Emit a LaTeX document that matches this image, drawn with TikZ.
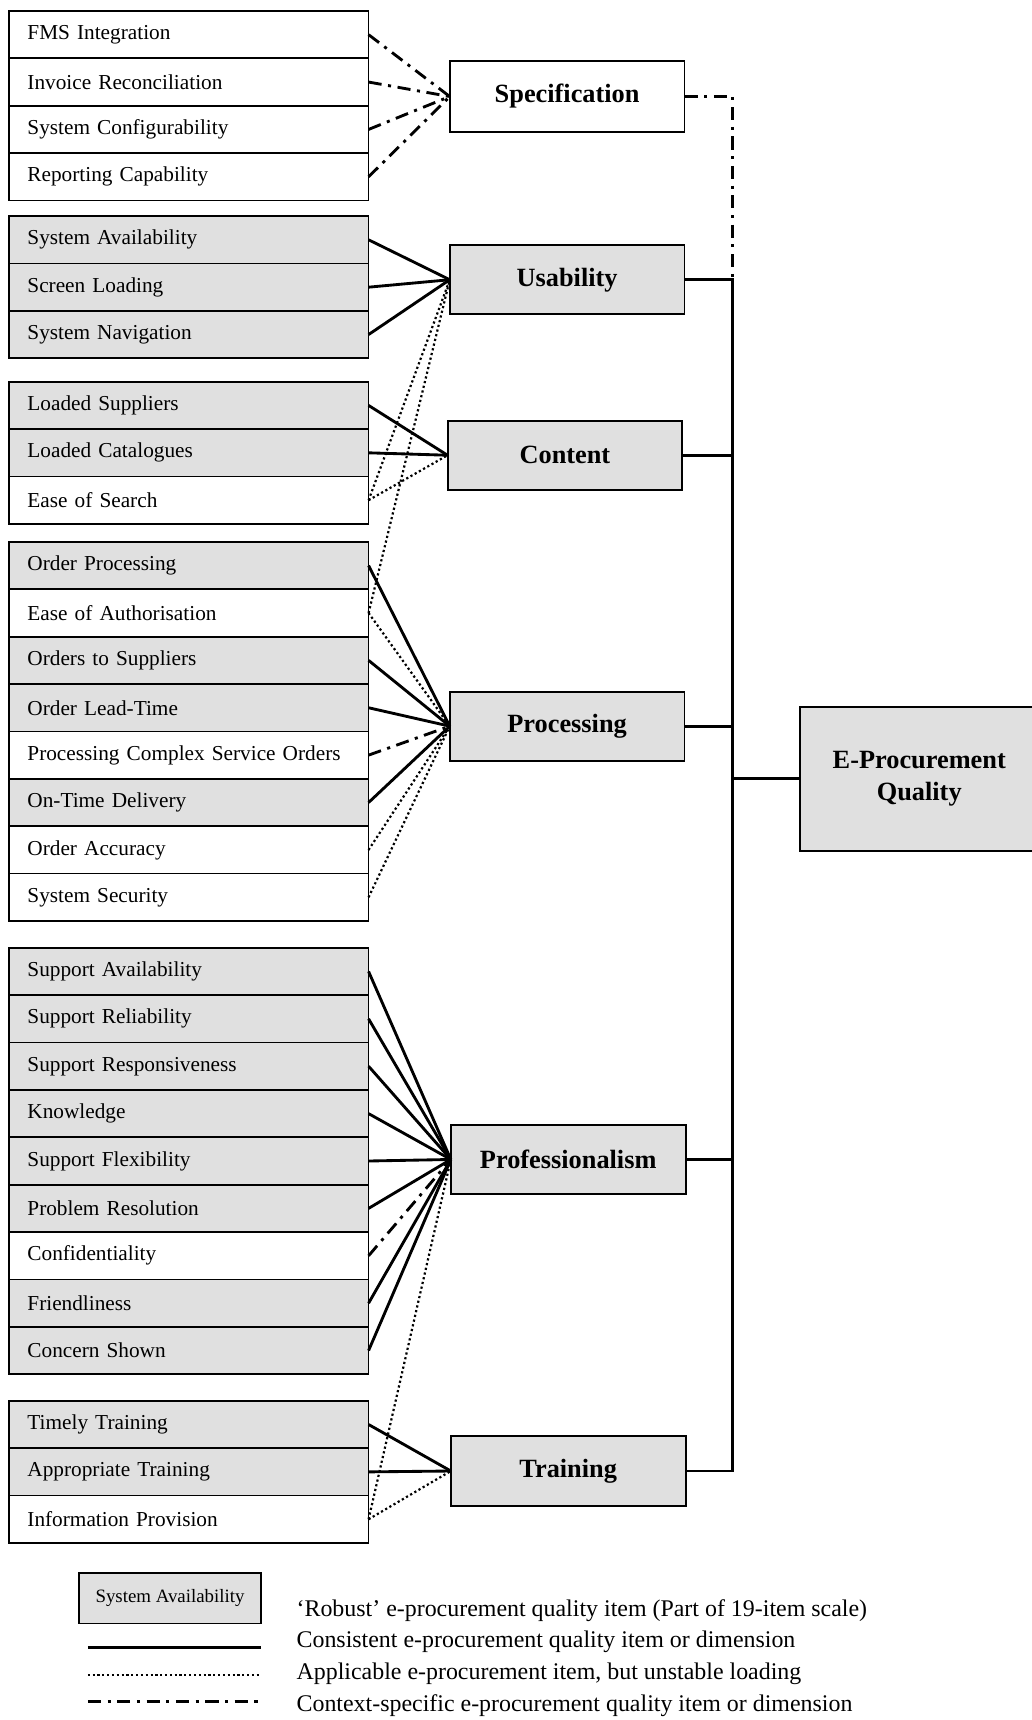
\documentclass[tikz,border=0pt]{standalone}
\usepackage{fontspec}
\setmainfont{Liberation Serif}
\usepackage{tikz}
\usetikzlibrary{positioning}
\tikzstyle{itembox} = [rectangle, draw=black, line width=0.8pt, outer sep=0pt, minimum width=164pt, minimum height=21.6pt, inner xsep=8.5pt, inner ysep=0pt, text width=147pt, align=left, fill=white, font=\fontsize{9.7pt}{11pt}\selectfont]
\tikzstyle{robustbox} = [itembox, fill=black!12]
\tikzstyle{dimbox} = [rectangle, draw=black, line width=0.9pt, outer sep=0pt, minimum width=107pt, minimum height=31.5pt, fill=black!12, font=\fontsize{12pt}{14.5pt}\selectfont\bfseries]
\tikzstyle{legtext} = [anchor=west, inner sep=0pt, font=\fontsize{10.9pt}{12pt}\selectfont]
\tikzstyle{consistent} = [line width=1.3pt]
\tikzstyle{unstable} = [line width=1pt, dash pattern=on 1pt off 1.2pt]
\tikzstyle{contextspec} = [line width=1.3pt, dash pattern=on 6pt off 3pt on 1.4pt off 3pt]

\begin{document}
\begin{tikzpicture}[x=0.5pt, y=-0.5pt]
\useasboundingbox (0,0) rectangle (940,1568);

% items
\node (fms) [itembox, anchor=north west] at (8,10) {FMS Integration};
\node (invoice) [itembox, below=0pt of fms] {Invoice Reconciliation};
\node (config) [itembox, below=0pt of invoice] {System Configurability};
\node (report) [itembox, below=0pt of config] {Reporting Capability};

\node (sysavail) [robustbox, anchor=north west] at (8,197) {System Availability};
\node (screen) [robustbox, below=0pt of sysavail] {Screen Loading};
\node (navig) [robustbox, below=0pt of screen] {System Navigation};

\node (suppliers) [robustbox, anchor=north west] at (8,348) {Loaded Suppliers};
\node (catalogues) [robustbox, below=0pt of suppliers] {Loaded Catalogues};
\node (search) [itembox, below=0pt of catalogues] {Ease of Search};

\node (orderproc) [robustbox, anchor=north west] at (8,494) {Order Processing};
\node (authorise) [itembox, below=0pt of orderproc] {Ease of Authorisation};
\node (ordersup) [robustbox, below=0pt of authorise] {Orders to Suppliers};
\node (leadtime) [robustbox, below=0pt of ordersup] {Order Lead-Time};
\node (complex) [itembox, below=0pt of leadtime] {Processing Complex Service Orders};
\node (ontime) [robustbox, below=0pt of complex] {On-Time Delivery};
\node (accuracy) [itembox, below=0pt of ontime] {Order Accuracy};
\node (security) [itembox, below=0pt of accuracy] {System Security};

\node (supavail) [robustbox, anchor=north west] at (8,864) {Support Availability};
\node (supreliab) [robustbox, below=0pt of supavail] {Support Reliability};
\node (supresp) [robustbox, below=0pt of supreliab] {Support Responsiveness};
\node (knowledge) [robustbox, below=0pt of supresp] {Knowledge};
\node (supflex) [robustbox, below=0pt of knowledge] {Support Flexibility};
\node (problem) [robustbox, below=0pt of supflex] {Problem Resolution};
\node (confid) [itembox, below=0pt of problem] {Confidentiality};
\node (friendly) [robustbox, below=0pt of confid] {Friendliness};
\node (concern) [robustbox, below=0pt of friendly] {Concern Shown};

\node (timely) [robustbox, anchor=north west] at (8,1277) {Timely Training};
\node (appropriate) [robustbox, below=0pt of timely] {Appropriate Training};
\node (infoprov) [itembox, below=0pt of appropriate] {Information Provision};

% dimensions
\node (spec) [dimbox, fill=white, minimum height=32.5pt] at (517,88) {Specification};
\node (usab) [dimbox] at (517,255) {Usability};
\node (cont) [dimbox] at (515,415) {Content};
\node (proc) [dimbox] at (517,662) {Processing};
\node (prof) [dimbox] at (518,1057) {Professionalism};
\node (train) [dimbox] at (518,1341) {Training};
\node (eproc) [dimbox, minimum width=109pt, minimum height=65.5pt, align=center] at (838,710) {E-Procurement\\Quality};

% items to dimensions
\draw [contextspec] (fms.east) -- (spec.west);
\draw [contextspec] (invoice.east) -- (spec.west);
\draw [contextspec] (config.east) -- (spec.west);
\draw [contextspec] (report.east) -- (spec.west);

\draw [consistent] (sysavail.east) -- (usab.west);
\draw [consistent] (screen.east) -- (usab.west);
\draw [consistent] (navig.east) -- (usab.west);
\draw [unstable] (search.east) -- (usab.west);
\draw [unstable] (authorise.east) -- (usab.west);

\draw [consistent] (suppliers.east) -- (cont.west);
\draw [consistent] (catalogues.east) -- (cont.west);
\draw [unstable] (search.east) -- (cont.west);

\draw [consistent] (orderproc.east) -- (proc.west);
\draw [unstable] (authorise.east) -- (proc.west);
\draw [consistent] (ordersup.east) -- (proc.west);
\draw [consistent] (leadtime.east) -- (proc.west);
\draw [contextspec] (complex.east) -- (proc.west);
\draw [consistent] (ontime.east) -- (proc.west);
\draw [unstable] (accuracy.east) -- (proc.west);
\draw [unstable] (security.east) -- (proc.west);

\draw [consistent] (supavail.east) -- (prof.west);
\draw [consistent] (supreliab.east) -- (prof.west);
\draw [consistent] (supresp.east) -- (prof.west);
\draw [consistent] (knowledge.east) -- (prof.west);
\draw [consistent] (supflex.east) -- (prof.west);
\draw [consistent] (problem.east) -- (prof.west);
\draw [contextspec] (confid.east) -- (prof.west);
\draw [consistent] (friendly.east) -- (prof.west);
\draw [consistent] (concern.east) -- (prof.west);
\draw [unstable] (infoprov.east) -- (prof.west);

\draw [consistent] (timely.east) -- (train.west);
\draw [consistent] (appropriate.east) -- (train.west);
\draw [unstable] (infoprov.east) -- (train.west);

% dimensions to quality
\coordinate (bus) at (668,0);
\draw [contextspec] (spec.east) -- (spec.east -| bus) -- (usab.east -| bus);
\draw [consistent] (usab.east) -- (usab.east -| bus) -- (train.east -| bus) -- (train.east);
\draw [consistent] (cont.east) -- (cont.east -| bus);
\draw [consistent] (proc.east) -- (proc.east -| bus);
\draw [consistent] (prof.east) -- (prof.east -| bus);
\draw [consistent] (eproc.west) -- (eproc.west -| bus);

% legend
\node (legbox) [robustbox, minimum width=83pt, minimum height=23pt, text width=, align=center, inner xsep=2pt, font=\fontsize{8.6pt}{10pt}\selectfont] at (155,1457) {System Availability};
\coordinate (solida) at (80,1502);
\coordinate (solidb) at (238,1502);
\coordinate (dota) at (80,1527);
\coordinate (dotb) at (238,1527);
\coordinate (dasha) at (80,1551);
\coordinate (dashb) at (238,1551);
\draw [consistent, line width=1.5pt] (solida) -- (solidb);
\draw [unstable, line width=0.8pt] (dota) -- (dotb);
\draw [contextspec, line width=1.5pt] (dasha) -- (dashb);
\node (legrobust) [legtext] at (270,1468) {‘Robust’ e-procurement quality item (Part of 19-item scale)};
\node (legconsist) [legtext] at (270,1497) {Consistent e-procurement quality item or dimension};
\node (legunstable) [legtext] at (270,1526) {Applicable e-procurement item, but unstable loading};
\node (legcontext) [legtext] at (270,1555) {Context-specific e-procurement quality item or dimension};

\end{tikzpicture}
\end{document}
